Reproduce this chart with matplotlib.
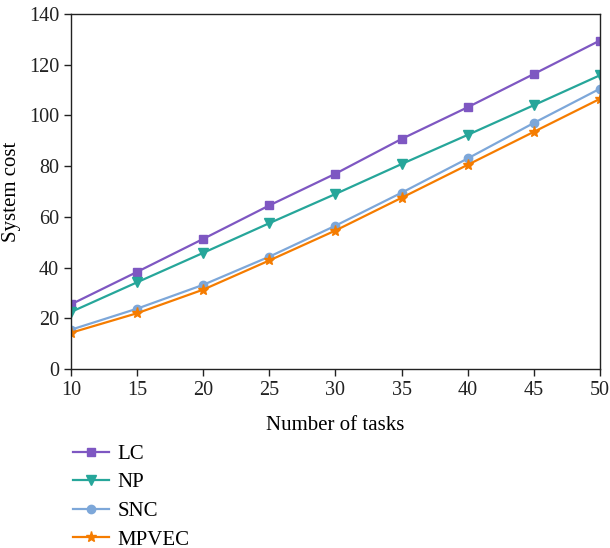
import numpy as np
import matplotlib
matplotlib.use('Agg')
import matplotlib.pyplot as plt

plt.rcParams['font.family'] = ['Liberation Serif', 'DejaVu Serif']

tasks = [10, 15, 20, 25, 30, 35, 40, 45, 50]
lc = [25.5, 38.3, 51.3, 64.5, 77.0, 90.7, 103.2, 116.3, 129.5]
np_cost = [22.5, 34.2, 45.8, 57.5, 69.0, 80.8, 92.3, 104.0, 115.8]
snc = [15.5, 23.8, 33.2, 44.3, 56.5, 69.5, 83.0, 97.0, 110.5]
mpvec = [14.3, 22.0, 31.3, 42.8, 54.6, 67.5, 80.5, 93.5, 106.5]

fig = plt.figure(figsize=(6.1, 5.48), dpi=100)
ax = fig.add_axes([0.1164, 0.3266, 0.867, 0.648])

ax.plot(tasks, lc, color='#7e57c2', marker='s', markersize=6, linewidth=1.6, label='LC')
ax.plot(tasks, np_cost, color='#26a69a', marker='v', markersize=7, linewidth=1.6, label='NP')
ax.plot(tasks, snc, color='#7da7d9', marker='o', markersize=6, linewidth=1.6, label='SNC')
ax.plot(tasks, mpvec, color='#f57c00', marker='*', markersize=8, linewidth=1.6, label='MPVEC')

ax.set_xlim(10, 50)
ax.set_ylim(0, 140)
ax.set_xticks(tasks)
ax.set_yticks(range(0, 141, 20))
ax.tick_params(direction='out', length=5, width=1, labelsize=14.5, colors='#222222')
ax.set_xlabel('Number of tasks', fontsize=15, labelpad=12)
ax.set_ylabel('System cost', fontsize=15, labelpad=6)
for s in ax.spines.values():
    s.set_linewidth(1.0)
    s.set_color('#222222')

ax.legend(loc='upper left', bbox_to_anchor=(-0.023, -0.171), frameon=False, fontsize=15,
          handlelength=1.7, labelspacing=0.43, handletextpad=0.4, borderaxespad=0.3)

fig.savefig('out.png', dpi=100)
